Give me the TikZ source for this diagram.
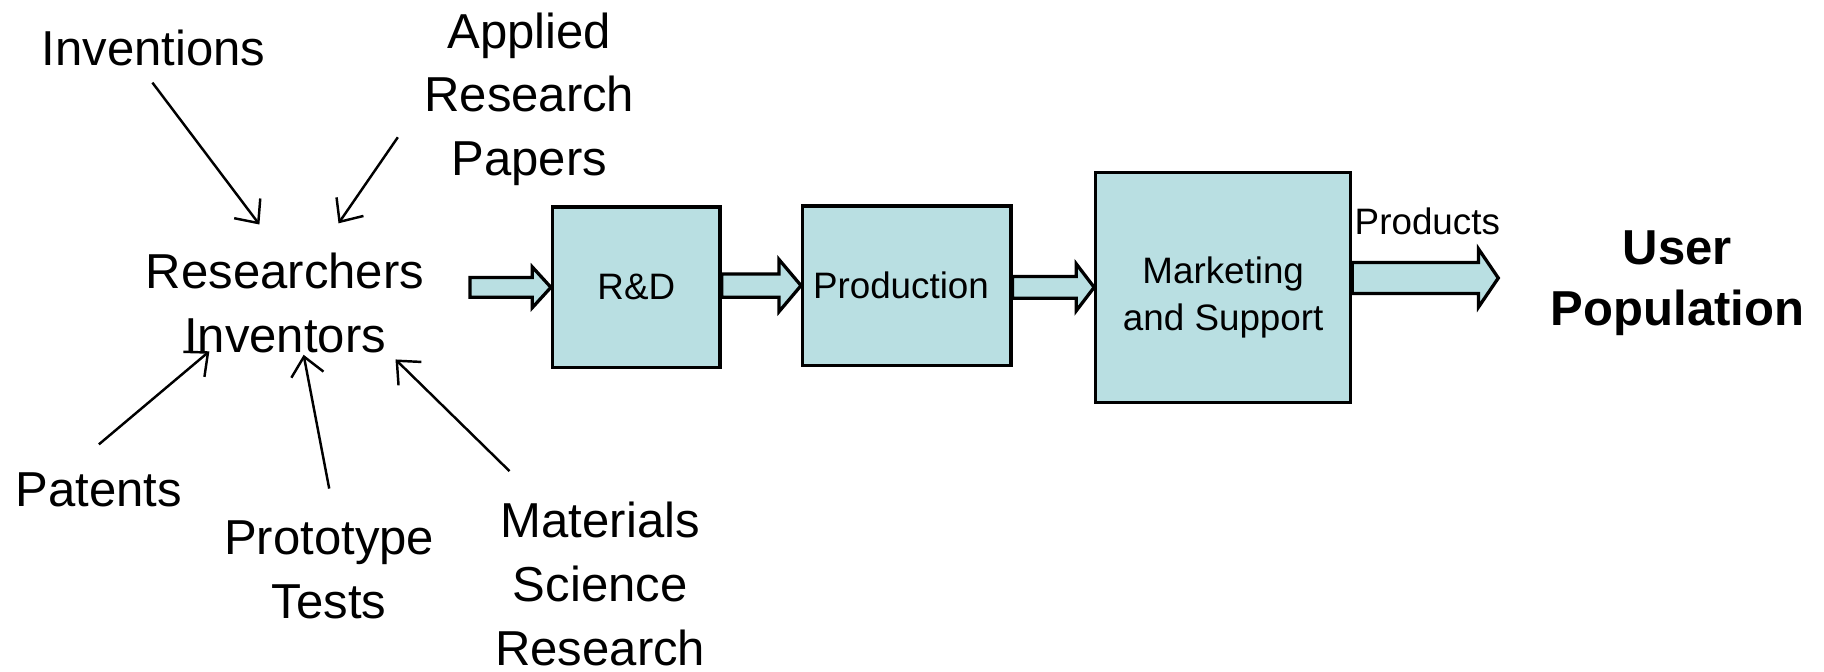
\documentclass[tikz,border=0pt]{standalone}
\usepackage{fontspec}
\setmainfont{Liberation Sans}
\usepackage{tikz}
\usetikzlibrary{calc}
\usetikzlibrary{arrows.meta}

\definecolor{stagefill}{RGB}{185,223,226}

\tikzset{
  source/.style={anchor=north, inner sep=0pt, align=center, font=\fontsize{12}{15.6}\selectfont},
  stage/.style={draw, line width=0.8pt, fill=stagefill, inner sep=0pt, align=center, font=\fontsize{9}{11.4}\selectfont},
  feed/.style={-{Straight Barb[length=4.5pt,width=8pt]}, line width=0.6pt},
  pipe/.style={draw, line width=0.8pt, fill=stagefill, line join=miter},
}

% tail, tip, half shaft, half head, head length
\newcommand{\fatarrow}[5]{%
  \coordinate (tl) at (#1 |- #2); \coordinate (tp) at (#2);
  \draw[pipe] ($(tl)+(0,#3)$) -- ($(tp)+(-#5,#3)$) -- ($(tp)+(-#5,#4)$) -- (tp)
    -- ($(tp)+(-#5,-#4)$) -- ($(tp)+(-#5,-#3)$) -- ($(tl)+(0,-#3)$) -- cycle;}

\begin{document}
\begin{tikzpicture}
\useasboundingbox (0,0) rectangle (15.68,5.77);

\node[source] (inv) at (1.32,5.52) {Inventions};
\node[source] (app) at (4.55,5.67) {Applied\\Research\\Papers};
\node[source] (res) at (2.45,3.60) {Researchers\\Inventors};
\node[source] (pat) at (0.85,1.715) {Patents};
\node[source] (pro) at (2.83,1.30) {Prototype\\Tests};
\node[source] (mat) at (5.16,1.46) {Materials\\Science\\Research};

\node[stage, minimum width=1.44cm, minimum height=1.38cm] (rd) at (5.47,3.30) {R\&D};
\node[stage, minimum width=1.79cm, minimum height=1.37cm] (prod) at (7.795,3.315) {Production\hspace{0.1cm}};
\node[stage, minimum width=2.19cm, minimum height=1.98cm, text height=0.80cm] (mkt) at (10.515,3.30) {Marketing\\and Support};

\node[source, font=\fontsize{9}{11}\selectfont] (pdt) at (12.27,3.99) {Products};
\node[source, font=\bfseries\fontsize{12}{14.8}\selectfont] (usr) at (14.42,3.79) {User\\Population};

\coordinate (resout) at (4.04,3.32);
\coordinate (usrin) at (12.88,3.38);
\fatarrow{resout}{rd.west}{0.085}{0.175}{0.16}
\fatarrow{rd.east}{prod.west}{0.10}{0.225}{0.19}
\fatarrow{prod.east}{mkt.west}{0.093}{0.203}{0.155}
\fatarrow{mkt.east}{usrin}{0.133}{0.25}{0.17}

\coordinate (inv-a) at (1.31,5.06); \coordinate (inv-b) at (2.23,3.84);
\coordinate (app-a) at (3.42,4.59); \coordinate (app-b) at (2.91,3.85);
\coordinate (pat-a) at (0.85,1.95); \coordinate (pat-b) at (1.80,2.75);
\coordinate (pro-a) at (2.83,1.57); \coordinate (pro-b) at (2.61,2.72);
\coordinate (mat-a) at (4.38,1.72); \coordinate (mat-b) at (3.40,2.68);
\draw[feed] (inv-a) -- (inv-b);
\draw[feed] (app-a) -- (app-b);
\draw[feed] (pat-a) -- (pat-b);
\draw[feed] (pro-a) -- (pro-b);
\draw[feed] (mat-a) -- (mat-b);

\end{tikzpicture}
\end{document}
